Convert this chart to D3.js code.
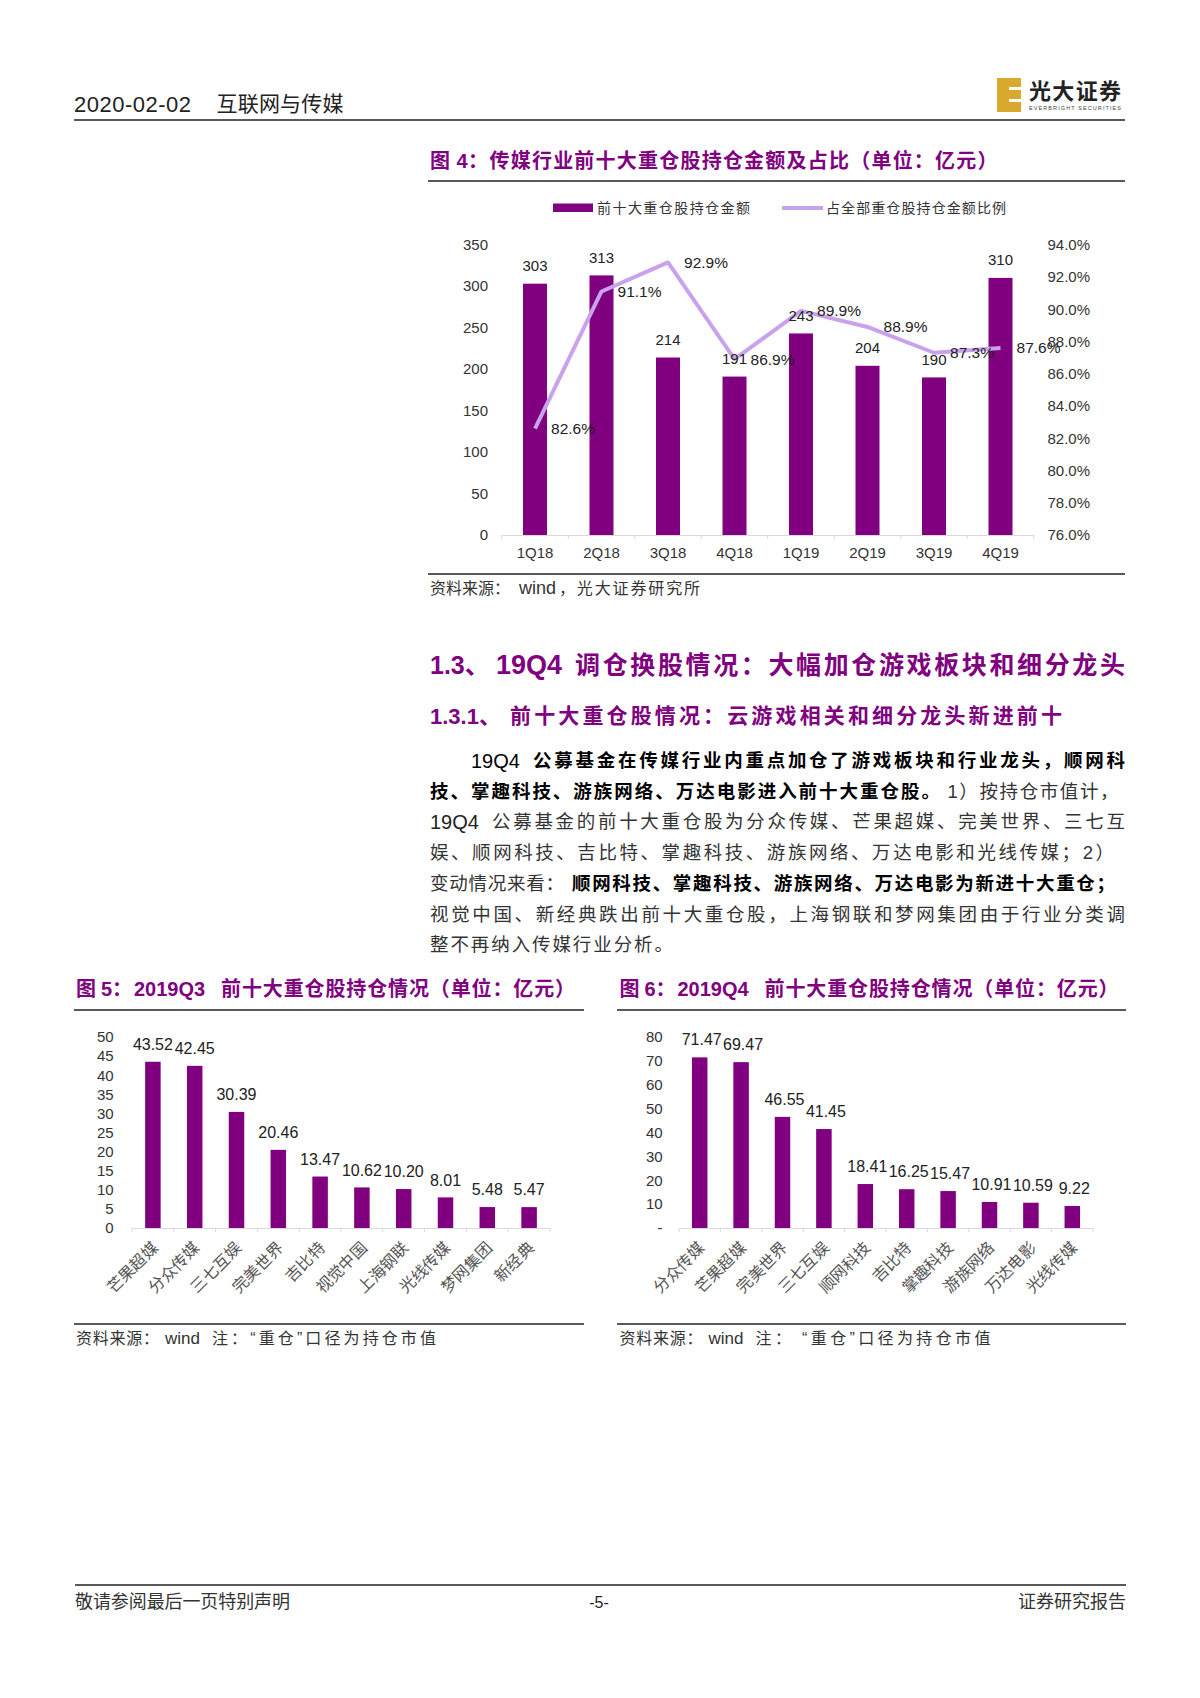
<!DOCTYPE html>
<html lang="zh-CN">

<head>
  <meta charset="utf-8">
  <title>互联网与传媒</title>
  <script src="https://d3js.org/d3.v7.min.js"></script>
</head>

<style media="screen">
  body {
    margin: 0;
    background: #fff;
  }

  svg {
    display: block;
    font-family: "Liberation Sans", "Noto Sans CJK SC", sans-serif;
  }

  .domain {
    stroke: #d9d9d9;
  }

</style>

<body>
  <div id="page"></div>
</body>

<script>
  // figure 4
  var quarters = ["1Q18", "2Q18", "3Q18", "4Q18", "1Q19", "2Q19", "3Q19", "4Q19"];
  var holdingAmount = [303, 313, 214, 191, 243, 204, 190, 310];
  var holdingShare = [82.6, 91.1, 92.9, 86.9, 89.9, 88.9, 87.3, 87.6];
  var amountTicks = [0, 50, 100, 150, 200, 250, 300, 350];
  var shareTicks = [76, 78, 80, 82, 84, 86, 88, 90, 92, 94];

  // figure 5
  var q3Names = ["芒果超媒", "分众传媒", "三七互娱", "完美世界", "吉比特", "视觉中国", "上海钢联", "光线传媒", "梦网集团", "新经典"];
  var q3Values = [43.52, 42.45, 30.39, 20.46, 13.47, 10.62, 10.20, 8.01, 5.48, 5.47];
  var q3Ticks = [0, 5, 10, 15, 20, 25, 30, 35, 40, 45, 50];

  // figure 6
  var q4Names = ["分众传媒", "芒果超媒", "完美世界", "三七互娱", "顺网科技", "吉比特", "掌趣科技", "游族网络", "万达电影", "光线传媒"];
  var q4Values = [71.47, 69.47, 46.55, 41.45, 18.41, 16.25, 15.47, 10.91, 10.59, 9.22];
  var q4Ticks = [0, 10, 20, 30, 40, 50, 60, 70, 80];

  var purple = "#800080";
  var lilac = "#c9a2ee";

  var svg = d3.select("#page").append("svg")
    .attr("width", 1200)
    .attr("height", 1698);

  // one line of text, stretched to an exact width when width is given
  function label(x, y, str, opt)
  {
    opt = opt || {};
    var t = svg.append("text")
      .attr("x", x)
      .attr("y", y)
      .attr("dy", "0.35em")
      .attr("font-size", opt.size || 15)
      .attr("font-weight", opt.weight || "normal")
      .attr("fill", opt.fill || "#333")
      .attr("text-anchor", opt.anchor || "start")
      .text(str);
    if (opt.width) t.attr("textLength", opt.width).attr("lengthAdjust", "spacing");
    return t;
  }

  function rule(x1, x2, y)
  {
    svg.append("line")
      .attr("x1", x1).attr("x2", x2)
      .attr("y1", y).attr("y2", y)
      .attr("stroke", "#222")
      .attr("stroke-width", 1.5);
  }

  // bottom axis line with small marks between the categories
  function categoryAxis(x, y0)
  {
    var g = svg.append("g").attr("transform", "translate(0," + y0 + ")");
    g.call(d3.axisBottom(x).tickSize(0).tickPadding(0));
    var edges = x.domain().map(function(d) { return x(d); });
    edges.push(x.range()[1]);
    g.selectAll(".edge")
      .data(edges)
      .enter()
      .append("line")
      .attr("class", "edge")
      .attr("x1", function(d) { return d; })
      .attr("x2", function(d) { return d; })
      .attr("y1", 0)
      .attr("y2", 4)
      .attr("stroke", "#d9d9d9");
    return g;
  }

  function bars(names, values, x, y, y0, w)
  {
    svg.append("g")
      .selectAll("rect")
      .data(values)
      .enter()
      .append("rect")
      .attr("x", function(d, i) { return x(names[i]) + x.bandwidth() / 2 - w / 2; })
      .attr("y", function(d) { return y(d); })
      .attr("width", w)
      .attr("height", function(d) { return y0 - y(d); })
      .attr("fill", purple);
  }

  function valueAxis(y, ticks, xPos, fmt)
  {
    var g = svg.append("g")
      .attr("transform", "translate(" + xPos + ",0)")
      .call(d3.axisLeft(y).tickValues(ticks).tickSize(0).tickPadding(0).tickFormat(fmt));
    g.select(".domain").remove();
    g.selectAll("text").attr("font-size", 15).attr("fill", "#333").attr("font-family", "Liberation Sans");
    return g;
  }

  // page header
  label(74, 104, "2020-02-02", { size: 22, fill: "#222", width: 117 });
  label(216.5, 104, "互联网与传媒", { size: 21, fill: "#222", width: 127 });
  rule(74, 1125, 120);

  // logo
  svg.append("rect").attr("x", 997).attr("y", 78).attr("width", 24).attr("height", 34).attr("fill", "#d8a92c");
  svg.append("rect").attr("x", 1009).attr("y", 87).attr("width", 12).attr("height", 3).attr("fill", "#fff");
  svg.append("rect").attr("x", 1009).attr("y", 99).attr("width", 12).attr("height", 3).attr("fill", "#fff");
  label(1029, 91, "光大证券", { size: 22, weight: "bold", fill: "#222", width: 92 });
  label(1029, 108, "EVERBRIGHT SECURITIES", { size: 5.5, fill: "#444", width: 92 });

  // figure 4
  var titleStyle = { size: 20, weight: "bold", fill: purple };
  function titlePart(w) { return Object.assign({}, titleStyle, { width: w }); }

  label(430, 161, "图 4：", titlePart(58));
  label(489.5, 161, "传媒行业前十大重仓股持仓金额及占比（单位：亿元）", titlePart(508));
  rule(428, 1125, 181);

  svg.append("rect").attr("x", 553).attr("y", 203.5).attr("width", 40).attr("height", 8.5).attr("fill", purple);
  label(597, 208, "前十大重仓股持仓金额", { size: 14, width: 153 });
  svg.append("line")
    .attr("x1", 782).attr("x2", 823)
    .attr("y1", 208).attr("y2", 208)
    .attr("stroke", lilac).attr("stroke-width", 4);
  label(826, 208, "占全部重仓股持仓金额比例", { size: 14, width: 180 });

  var x4 = d3.scaleBand().domain(quarters).range([501.75, 1033.75]).padding(0);
  var y4 = d3.scaleLinear().domain([0, 350]).range([535, 244.7]);
  var y4r = d3.scaleLinear().domain([76, 94]).range([535, 244.7]);

  valueAxis(y4, amountTicks, 488, function(d) { return d; });
  valueAxis(y4r, shareTicks, 1090, function(d) { return d.toFixed(1) + "%"; });

  var axis4 = categoryAxis(x4, 535);
  axis4.selectAll(".tick text")
    .attr("y", 12)
    .attr("font-size", 15)
    .attr("font-family", "Liberation Sans")
    .attr("fill", "#333");

  bars(quarters, holdingAmount, x4, y4, 535, 24);

  var shareLine = d3.line()
    .x(function(d, i) { return x4(quarters[i]) + x4.bandwidth() / 2; })
    .y(function(d) { return y4r(d); });

  svg.append("path")
    .datum(holdingShare)
    .attr("d", shareLine)
    .attr("fill", "none")
    .attr("stroke", lilac)
    .attr("stroke-width", 4)
    .attr("stroke-linejoin", "round");

  holdingAmount.forEach(function(d, i) {
    label(x4(quarters[i]) + x4.bandwidth() / 2, y4(d) - 18, d, { anchor: "middle", size: 15, fill: "#222" });
  });
  holdingShare.forEach(function(d, i) {
    label(x4(quarters[i]) + x4.bandwidth() / 2 + 38, y4r(d), d.toFixed(1) + "%", { anchor: "middle", size: 15.5, fill: "#222" });
  });

  rule(428, 1125, 574);
  label(430, 588, "资料来源：", { size: 16, width: 80 });
  label(519, 588, "wind", { size: 18 });
  label(559, 588, "，光大证券研究所", { size: 16, width: 141 });

  // section text
  var h2 = { size: 25, weight: "bold", fill: purple };
  var h3 = { size: 21, weight: "bold", fill: purple };
  label(430, 665, "1.3、", h2);
  label(496, 665, "19Q4", Object.assign({}, h2, { size: 27 }));
  label(575, 665, "调仓换股情况：大幅加仓游戏板块和细分龙头", Object.assign({}, h2, { width: 550 }));
  label(430, 716, "1.3.1、", Object.assign({}, h3, { size: 22 }));
  label(510, 716, "前十大重仓股情况：云游戏相关和细分龙头新进前十", Object.assign({}, h3, { width: 552 }));

  var black = { size: 18.5, weight: "bold", fill: "#000" };
  function bold(w) { return Object.assign({}, black, { width: w }); }
  function plain(w) { return { size: 18.5, fill: "#333", width: w }; }

  label(471, 761, "19Q4", { size: 20, fill: "#000" });
  label(533, 761, "公募基金在传媒行业内重点加仓了游戏板块和行业龙头，顺网科", bold(592));
  label(430, 791.5, "技、掌趣科技、游族网络、万达电影进入前十大重仓股。", bold(510));
  label(947.5, 791.5, "1）按持仓市值计，", plain(171));
  label(430, 822, "19Q4", { size: 20, fill: "#222" });
  label(492, 822, "公募基金的前十大重仓股为分众传媒、芒果超媒、完美世界、三七互", plain(633));
  label(430, 853, "娱、顺网科技、吉比特、掌趣科技、游族网络、万达电影和光线传媒；2）", plain(684));
  label(430, 883.5, "变动情况来看：", plain(134));
  label(572, 883.5, "顺网科技、掌趣科技、游族网络、万达电影为新进十大重仓；", bold(543));
  label(430, 915, "视觉中国、新经典跌出前十大重仓股，上海钢联和梦网集团由于行业分类调", plain(695));
  label(430, 945, "整不再纳入传媒行业分析。", plain(243));

  // figures 5 and 6 share the same layout
  function holdingsChart(opt)
  {
    var y0 = 1228;
    label(opt.titleX, 988.5, opt.titleHead, titlePart(56));
    label(opt.titleX + 58, 988.5, opt.period, { size: 20, weight: "bold", fill: purple });
    label(opt.titleX + 145, 988.5, opt.titleTail, titlePart(354));
    rule(opt.ruleX[0], opt.ruleX[1], 1010);

    var x = d3.scaleBand().domain(opt.names).range(opt.axisX).padding(0);
    var y = d3.scaleLinear().domain([0, opt.max]).range([y0, 1037]);

    valueAxis(y, opt.ticks, opt.tickX, opt.fmt);

    var axis = categoryAxis(x, y0);
    axis.selectAll(".tick text")
      .attr("text-anchor", "end")
      .attr("font-size", 16)
      .attr("fill", "#555")
      .attr("y", 0)
      .attr("dy", 0)
      .attr("transform", "translate(6,21) rotate(-45)");

    bars(opt.names, opt.values, x, y, y0, 15.5);

    opt.values.forEach(function(d, i) {
      label(x(opt.names[i]) + x.bandwidth() / 2 + opt.labelShift, y(d) - 17.5, d.toFixed(2), { anchor: "middle", size: 16, fill: "#222" });
    });

    rule(opt.ruleX[0], opt.ruleX[1], 1324);
    label(opt.titleX, 1338, "资料来源：", { size: 16, width: 83 });
    label(opt.titleX + 89, 1338, "wind", { size: 17 });
    label(opt.titleX + opt.noteX, 1338, opt.note, { size: 16, width: opt.noteW });
  }

  holdingsChart({
    titleHead: "图 5：",
    period: "2019Q3",
    titleTail: "前十大重仓股持仓情况（单位：亿元）",
    titleX: 76,
    ruleX: [74, 584],
    names: q3Names,
    values: q3Values,
    ticks: q3Ticks,
    max: 50,
    tickX: 113.7,
    axisX: [132, 550],
    labelShift: 0,
    fmt: function(d) { return d; },
    note: "注：“重仓”口径为持仓市值",
    noteX: 136,
    noteW: 224
  });

  holdingsChart({
    titleHead: "图 6：",
    period: "2019Q4",
    titleTail: "前十大重仓股持仓情况（单位：亿元）",
    titleX: 619.5,
    ruleX: [617, 1126],
    names: q4Names,
    values: q4Values,
    ticks: q4Ticks,
    max: 80,
    tickX: 662.6,
    axisX: [679, 1093],
    labelShift: 2,
    fmt: function(d) { return d === 0 ? "-" : d; },
    note: "注： “重仓”口径为持仓市值",
    noteX: 136,
    noteW: 235
  });

  // page footer
  rule(75, 1126, 1585);
  label(75, 1602, "敬请参阅最后一页特别声明", { size: 18, fill: "#333", width: 215 });
  label(599, 1602, "-5-", { size: 16, anchor: "middle", fill: "#222" });
  label(1018, 1602, "证券研究报告", { size: 18, fill: "#333", width: 108 });

</script>

</html>
